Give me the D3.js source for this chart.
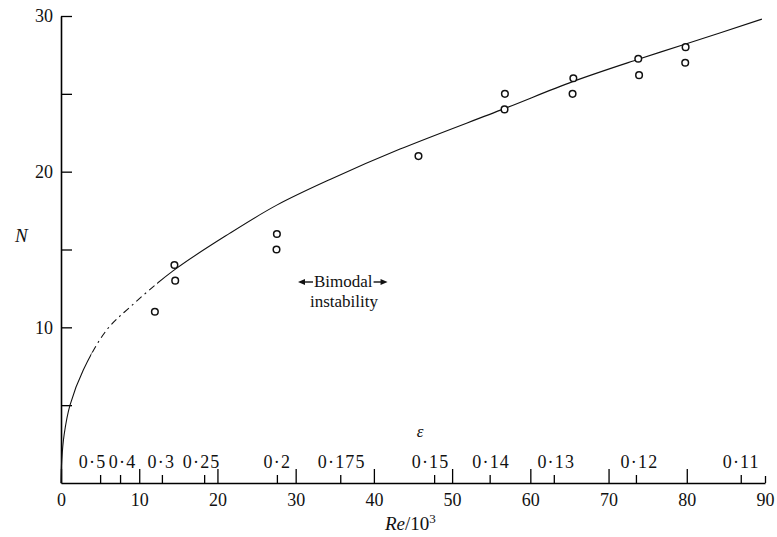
<!DOCTYPE html>
<html>
<head>
<meta charset="utf-8">
<script src="https://cdn.jsdelivr.net/npm/d3@7"></script>
<style>
  body { margin: 0; background: #fff; }
  text { font-family: "Liberation Serif", "Times New Roman", serif; fill: #111; }
</style>
</head>
<body>
<svg id="chart" width="777" height="537"></svg>
<script>
// measured points (Re/10^3, N)
const pointRe = [12.0, 14.5, 14.6, 27.6, 27.55, 45.7, 56.75, 56.7, 65.5, 65.4, 73.8, 73.9, 79.85, 79.8];
const pointN  = [11, 14, 13, 16, 15, 21, 25, 24, 26, 25, 27.25, 26.2, 28, 27];

// fitted curve
const curveRe = [0, 0.1, 0.4, 1.15, 2.85, 5.84, 8.82, 14.36, 21.6, 27.58, 34.39, 43.34, 56.67, 65.49, 73.8, 79.86, 89.6];
const curveN  = [0, 1.5, 3.1, 5.0, 7.26, 9.83, 11.3, 13.64, 16.05, 17.85, 19.5, 21.45, 24.05, 25.8, 27.22, 28.2, 29.8];

// epsilon scale along the bottom (position in Re/10^3)
const epsRe     = [5.0, 7.55, 12.9, 18.3, 27.6, 35.7, 47.7, 54.8, 63.0, 73.5, 86.9];
const epsLabels = ["0·5", "0·4", "0·3", "0·25", "0·2", "0·175", "0·15", "0·14", "0·13", "0·12", "0·11"];

const reTicks = [0, 10, 20, 30, 40, 50, 60, 70, 80, 90];
const nTicks = [5, 10, 15, 20, 25, 30];
const nLabels = [10, 20, 30];

const svg = d3.select("#chart");
const x = d3.scaleLinear().domain([0, 90]).range([61, 765]);
const y = d3.scaleLinear().domain([0, 30]).range([483, 16]);

const serif = "Liberation Serif";

// y axis, ticks pointing in
svg.append("g")
  .attr("transform", "translate(61,0)")
  .call(d3.axisLeft(y).tickValues(nTicks).tickSizeInner(-11).tickSizeOuter(0).tickPadding(8)
    .tickFormat(d => nLabels.includes(d) ? d : ""))
  .call(g => g.select(".domain").attr("stroke-width", 1.6))
  .call(g => g.selectAll(".tick line").attr("stroke-width", 1.3))
  .call(g => g.selectAll("text").attr("font-size", 18).attr("font-family", serif).attr("fill", "#111"));

// x axis, Re ticks pointing in
svg.append("g")
  .attr("transform", "translate(0,483)")
  .call(d3.axisBottom(x).tickValues(reTicks).tickSizeInner(-14).tickSizeOuter(0).tickPadding(10))
  .call(g => g.select(".domain").attr("stroke-width", 1.6))
  .call(g => g.selectAll(".tick line").attr("stroke-width", 1.3))
  .call(g => g.selectAll(".tick").filter(d => d === 90).select("line").attr("y2", -7))
  .call(g => g.selectAll("text").attr("font-size", 18).attr("font-family", serif).attr("fill", "#111"));

// epsilon ticks + labels
const epsNudge = [-8, 2, -1, -3, 0, 1, -4, 1, 2, 3, 0];
svg.append("g")
  .attr("transform", "translate(0,483)")
  .call(d3.axisTop(x).tickValues(epsRe).tickSize(8).tickPadding(7)
    .tickFormat((d, i) => epsLabels[i]))
  .call(g => g.select(".domain").remove())
  .call(g => g.selectAll(".tick line").attr("stroke-width", 1.3))
  .call(g => g.selectAll("text").attr("font-size", 18).attr("font-family", serif)
    .attr("letter-spacing", 1.2).attr("fill", "#111").attr("dx", (d, i) => epsNudge[i]));

svg.append("text").attr("x", 420).attr("y", 437).attr("text-anchor", "middle")
  .attr("font-size", 17).attr("font-style", "italic").text("ε");

// axis titles
svg.append("text").attr("x", 15).attr("y", 242).attr("font-size", 19).attr("font-style", "italic").text("N");
const rl = svg.append("text").attr("x", 385).attr("y", 530).attr("font-size", 19);
rl.append("tspan").attr("font-style", "italic").text("Re");
rl.append("tspan").text("/10");
rl.append("tspan").attr("dy", -7).attr("font-size", 13).text("3");

// curve: solid, with a broken stretch at low Re
const curve = curveRe.map((r, i) => [r, curveN[i]]);
const line = d3.line().x(d => x(d[0])).y(d => y(d[1])).curve(d3.curveCatmullRom.alpha(0.5));
const defs = svg.append("defs");
defs.append("clipPath").attr("id", "solidA").append("rect")
  .attr("x", 0).attr("y", 0).attr("width", x(3.9)).attr("height", 537);
defs.append("clipPath").attr("id", "solidB").append("rect")
  .attr("x", x(12.3)).attr("y", 0).attr("width", 777).attr("height", 537);
defs.append("clipPath").attr("id", "broken").append("rect")
  .attr("x", x(3.9)).attr("y", 0).attr("width", x(12.3) - x(3.9)).attr("height", 537);

["solidA", "solidB", "broken"].forEach(id => {
  svg.append("path").datum(curve)
    .attr("d", line).attr("fill", "none").attr("stroke", "#111").attr("stroke-width", 1.1)
    .attr("clip-path", `url(#${id})`)
    .attr("stroke-dasharray", id === "broken" ? "7,4,2,4" : null);
});

// data points
svg.append("g").selectAll("circle")
  .data(pointRe.map((r, i) => [r, pointN[i]]))
  .join("circle")
  .attr("cx", d => x(d[0])).attr("cy", d => y(d[1])).attr("r", 3.3)
  .attr("fill", "#fff").attr("stroke", "#111").attr("stroke-width", 1.5);

// annotation
const ann = svg.append("g");
const bt = ann.append("text").attr("x", 314).attr("y", 287).attr("font-size", 17).text("Bimodal");
const bw = bt.node().getComputedTextLength();
function arrow(x0, x1) {
  const dir = Math.sign(x1 - x0);
  ann.append("line").attr("x1", x0).attr("x2", x1 - dir * 5).attr("y1", 282).attr("y2", 282)
    .attr("stroke", "#111").attr("stroke-width", 1.4);
  ann.append("path").attr("d", `M${x1},282 L${x1 - dir * 7},279 L${x1 - dir * 7},285 Z`).attr("fill", "#111");
}
arrow(313, 298);
arrow(314 + bw + 1, 314 + bw + 15);
ann.append("text").attr("x", 310).attr("y", 307).attr("font-size", 17).text("instability");
</script>
</body>
</html>
